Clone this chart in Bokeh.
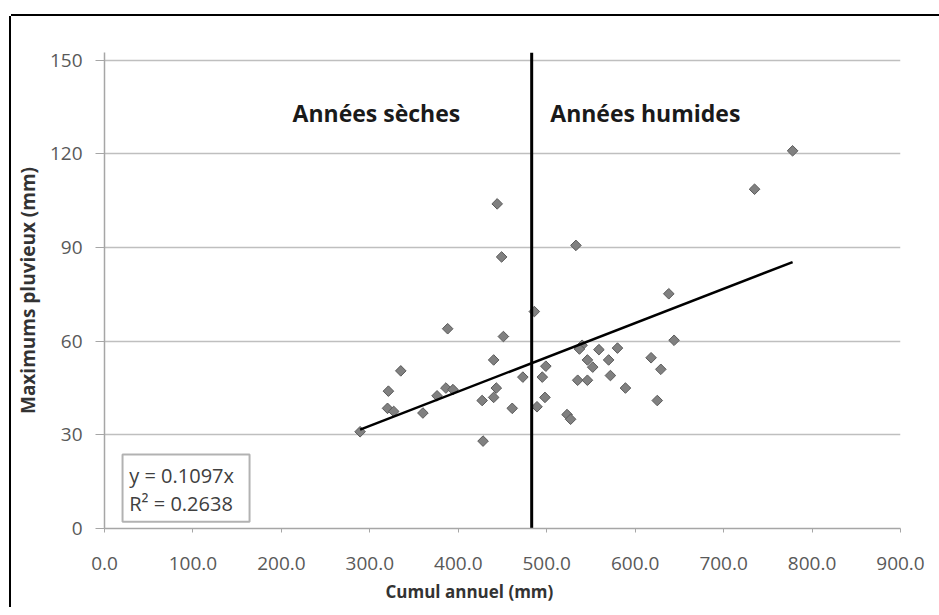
import math
from bokeh.plotting import figure
from bokeh.models import Range1d, FixedTicker, PrintfTickFormatter, Label, BoxAnnotation, Title
from bokeh.embed import file_html
from bokeh.resources import INLINE

# Data
cumul_annuel = [444, 449, 486, 388, 451, 440, 335, 321, 320, 327, 360, 289,
                376, 386, 394, 427, 443, 440, 461, 473, 428, 495, 489, 499,
                498, 523, 527, 535, 546, 540, 537, 559, 580, 546, 552, 570,
                572, 589, 618, 629, 625, 644, 638, 533, 735, 778]
maximums = [104, 87, 69.5, 64, 61.5, 54, 50.5, 44, 38.5, 37.5, 37, 31,
            42.5, 45, 44.5, 41, 45, 42, 38.5, 48.5, 28, 48.5, 39, 52,
            42, 36.5, 35, 47.5, 47.5, 58.7, 57.5, 57.3, 57.8, 54, 51.7, 54,
            49, 45, 54.7, 51, 41, 60.3, 75.2, 90.7, 108.7, 121]
slope = 0.1097
r2 = 0.2638
trend_x = [289, 778]
seuil = 483
x_ticks = [0, 100, 200, 300, 400, 500, 600, 700, 800, 900]
y_ticks = [0, 30, 60, 90, 120, 150]

FONT = "Open Sans"

p = figure(frame_width=796, frame_height=476,
           min_border_left=91, min_border_right=50,
           min_border_top=36, min_border_bottom=30,
           x_range=Range1d(0, 900), y_range=Range1d(0, 152.5),
           output_backend="svg", toolbar_location=None,
           background_fill_color="white", border_fill_color="white")
p.styles = {"position": "absolute", "left": "11px", "top": "16px",
            "box-shadow": "-2px 0 0 0 black, 0 -2px 0 0 black"}
p.outline_line_color = None

# axes
p.xaxis.ticker = FixedTicker(ticks=x_ticks)
p.xaxis.formatter = PrintfTickFormatter(format="%.1f")
p.yaxis.ticker = FixedTicker(ticks=y_ticks)
for ax in (p.xaxis[0], p.yaxis[0]):
    ax.axis_line_color = "#a6a6a6"
    ax.axis_line_width = 1.5
    ax.major_tick_line_color = "#a6a6a6"
    ax.minor_tick_line_color = None
    ax.major_tick_in = 0
    ax.major_label_text_font = FONT
    ax.major_label_text_font_size = "19px"
    ax.major_label_text_color = "#595959"
p.xaxis.major_tick_out = 4
p.xaxis.major_label_standoff = 24
p.yaxis.major_tick_out = 9
p.yaxis.major_label_standoff = 13
p.yaxis.axis_label = "Maximums pluvieux (mm)"
p.yaxis.axis_label_text_font = FONT
p.yaxis.axis_label_text_font_size = "19px"
p.yaxis.axis_label_text_font_style = "bold"
p.yaxis.axis_label_text_color = "#333333"
p.yaxis.axis_label_standoff = 6

p.xgrid.grid_line_color = None
p.ygrid.grid_line_color = "#bfbfbf"
p.ygrid.grid_line_width = 1.5

# x axis title (offset to the left, as in the original)
p.add_layout(Title(text="Cumul annuel (mm)", align="left", offset=281, standoff=10,
                   text_font=FONT, text_font_size="17px", text_font_style="bold",
                   text_color="#333333"), "below")

# scatter
p.scatter(cumul_annuel, maximums, marker="square", angle=math.pi / 4, size=7.5,
          fill_color="#808080", line_color="#5a5a5a", line_width=1)

# trend line
p.line(trend_x, [slope * v for v in trend_x], line_color="black", line_width=2.5)

# vertical separator
p.line([seuil, seuil], [0, 152.5], line_color="black", line_width=3)

# zone labels
p.add_layout(Label(x=212.6, y=133, text="Années sèches", text_baseline="middle",
                   text_font=FONT, text_font_size="23px", text_font_style="bold",
                   text_color="#1a1a1a"))
p.add_layout(Label(x=504, y=133, text="Années humides", text_baseline="middle",
                   text_font=FONT, text_font_size="23px", text_font_style="bold",
                   text_color="#1a1a1a"))

# equation box
p.add_layout(BoxAnnotation(left=20.4, right=164, bottom=2.2, top=23.7,
                           fill_color="white", fill_alpha=1,
                           line_color="black", line_width=2))
p.add_layout(Label(x=28, y=17, text="y = %.4fx" % slope, text_baseline="middle",
                   text_font=FONT, text_font_size="20px", text_color="#404040"))
p.add_layout(Label(x=28, y=8, text="R² = %.4f" % r2, text_baseline="middle",
                   text_font=FONT, text_font_size="20px", text_color="#404040"))

html = file_html(p, INLINE)
html = html.replace("<head>", "<head><style>html, body { overflow: hidden; }</style>", 1)
open("out.html", "w").write(html)
